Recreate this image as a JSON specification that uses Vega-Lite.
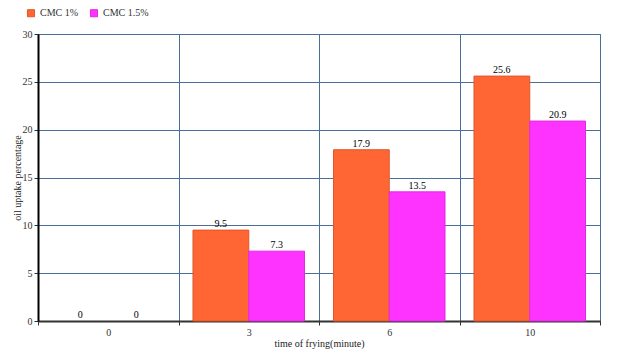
{
  "$schema": "https://vega.github.io/schema/vega-lite/v6.json",
  "width": 562,
  "height": 287,
  "autosize": {"type": "none"},
  "padding": {"left": 38, "top": 34, "right": 28, "bottom": 43},
  "background": "white",
  "config": {
    "font": "Liberation Serif",
    "axis": {"labelFont": "Liberation Serif", "titleFont": "Liberation Serif"},
    "legend": {"labelFont": "Liberation Serif"},
    "text": {"font": "Liberation Serif"},
    "view": {"stroke": "#808080", "strokeWidth": 1}
  },
  "data": {
    "values": [
      {"time": 0, "series": "CMC 1%", "value": 0},
      {"time": 0, "series": "CMC 1.5%", "value": 0},
      {"time": 3, "series": "CMC 1%", "value": 9.5},
      {"time": 3, "series": "CMC 1.5%", "value": 7.3},
      {"time": 6, "series": "CMC 1%", "value": 17.9},
      {"time": 6, "series": "CMC 1.5%", "value": 13.5},
      {"time": 10, "series": "CMC 1%", "value": 25.6},
      {"time": 10, "series": "CMC 1.5%", "value": 20.9}
    ]
  },
  "encoding": {
    "x": {
      "field": "time",
      "type": "ordinal",
      "scale": {"paddingInner": 0, "paddingOuter": 0},
      "axis": {
        "title": "time of frying(minute)",
        "labelAngle": 0,
        "tickBand": "extent",
        "grid": true,
        "gridColor": "#4A6E9A",
        "gridWidth": 1,
        "domainColor": "#333333",
        "domainWidth": 2,
        "tickColor": "#333333",
        "tickSize": 4,
        "labelFont": "Liberation Serif",
        "labelFontSize": 10,
        "labelColor": "#333333",
        "labelPadding": 2,
        "titleFont": "Liberation Serif",
        "titleFontSize": 10,
        "titleFontWeight": "normal",
        "titleColor": "#222222",
        "titlePadding": 1
      }
    },
    "xOffset": {
      "field": "series",
      "type": "nominal",
      "scale": {"paddingInner": 0, "paddingOuter": 0.26}
    },
    "y": {
      "field": "value",
      "type": "quantitative",
      "scale": {"domain": [0, 30]},
      "axis": {
        "title": "oil uptake percentage",
        "values": [0, 5, 10, 15, 20, 25, 30],
        "grid": true,
        "gridColor": "#4A6E9A",
        "gridWidth": 1,
        "domainColor": "#000000",
        "domainWidth": 2,
        "tickColor": "#333333",
        "tickSize": 4,
        "labelFont": "Liberation Serif",
        "labelFontSize": 10,
        "labelColor": "#333333",
        "labelPadding": 2,
        "titleFont": "Liberation Serif",
        "titleFontSize": 10,
        "titleFontWeight": "normal",
        "titleColor": "#222222",
        "titlePadding": 0
      }
    }
  },
  "layer": [
    {
      "mark": {"type": "bar", "strokeWidth": 1},
      "encoding": {
        "fill": {
          "field": "series",
          "type": "nominal",
          "scale": {"domain": ["CMC 1%", "CMC 1.5%"], "range": ["#FF6633", "#FF33FF"]},
          "legend": {
            "title": null,
            "orient": "none",
            "direction": "horizontal",
            "legendX": -12,
            "legendY": -26,
            "symbolType": "square",
            "symbolSize": 50,
            "symbolStrokeColor": "#333333",
            "symbolStrokeWidth": 1,
            "labelFont": "Liberation Serif",
            "labelFontSize": 10,
            "labelColor": "#333333",
            "labelOffset": 4,
            "columnPadding": 9
          }
        },
        "stroke": {
          "field": "series",
          "type": "nominal",
          "scale": {"domain": ["CMC 1%", "CMC 1.5%"], "range": ["#E0562A", "#E02AE0"]},
          "legend": null
        },
        "strokeOpacity": {"condition": {"test": "datum.value == 0", "value": 0}, "value": 1}
      }
    },
    {
      "mark": {"type": "text", "baseline": "bottom", "dy": -1, "fontSize": 10, "font": "Liberation Serif", "color": "#000000"},
      "encoding": {
        "text": {"field": "value", "type": "quantitative"}
      }
    }
  ]
}
